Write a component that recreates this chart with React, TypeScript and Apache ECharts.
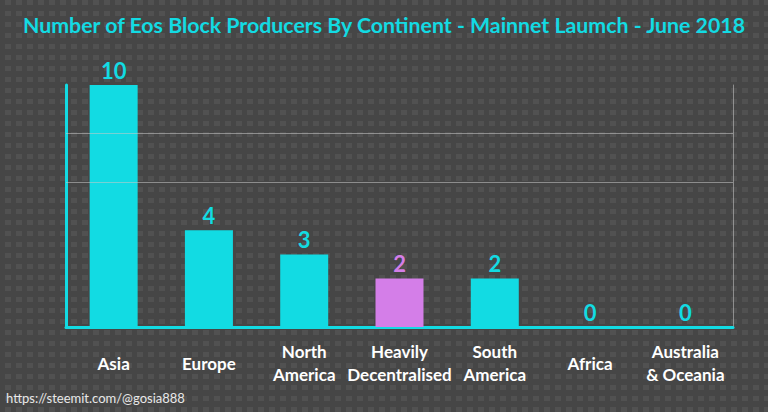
import React, { useEffect, useRef } from "react";
import * as echarts from "echarts";

const titleText = "Number of Eos Block Producers By Continent - Mainnet Laumch - June 2018";
const categories = [
  "Asia",
  "Europe",
  "North\nAmerica",
  "Heavily\nDecentralised",
  "South\nAmerica",
  "Africa",
  "Australia\n& Oceania",
];
const values = [10, 4, 3, 2, 2, 0, 0];
const highlighted = ["Heavily\nDecentralised"];
const gridValues = [6, 8];
const sourceText = "https://steemit.com/@gosia888";

const CYAN = "#12dbe3";
const PURPLE = "#d47ee8";
const FONT = "Lato, 'Open Sans', sans-serif";

export default function App() {
  const ref = useRef<HTMLDivElement>(null);

  useEffect(() => {
    if (!ref.current) return;
    const chart = echarts.init(ref.current, null, { renderer: "svg" });
    const data = values.map((v, i) => {
      const c = highlighted.includes(categories[i]) ? PURPLE : CYAN;
      return {
        value: v,
        itemStyle: { color: c },
        label: { color: c },
      };
    });
    chart.setOption({
      animation: false,
      backgroundColor: "transparent",
      textStyle: { fontFamily: FONT },
      title: {
        text: titleText,
        left: "center",
        top: 9,
        textStyle: {
          color: CYAN,
          fontSize: 21.3,
          fontWeight: "bold",
          fontFamily: FONT,
        },
      },
      grid: { left: 66, right: 35, top: 85, bottom: 85, containLabel: false },
      xAxis: {
        type: "category",
        data: categories,
        axisLine: { show: true, lineStyle: { color: CYAN, width: 3 } },
        axisTick: { show: false },
        axisLabel: {
          color: "#ffffff",
          fontSize: 17,
          fontWeight: "bold",
          fontFamily: FONT,
          lineHeight: 23,
          verticalAlign: "middle",
          margin: 36,
          interval: 0,
        },
      },
      yAxis: [
        {
          type: "value",
          min: 0,
          max: 10,
          interval: 2,
          axisLine: { show: true, lineStyle: { color: CYAN, width: 3 } },
          axisTick: { show: false },
          axisLabel: { show: false },
          splitLine: { show: false },
        },
        {
          type: "value",
          position: "right",
          min: 0,
          max: 10,
          interval: 2,
          axisLine: { show: true, lineStyle: { color: "rgba(200,200,200,0.55)", width: 1 } },
          axisTick: { show: false },
          axisLabel: { show: false },
          splitLine: { show: false },
        },
      ],
      series: [
        {
          type: "bar",
          data,
          barWidth: 48,
          label: {
            show: true,
            position: "top",
            distance: 4,
            fontSize: 22,
            fontWeight: "bold",
            fontFamily: FONT,
          },
          markLine: {
            silent: true,
            symbol: "none",
            label: { show: false },
            lineStyle: { color: "rgba(200,200,200,0.55)", width: 1, type: "solid" },
            data: gridValues.map((g) => ({ yAxis: g })),
          },
        },
      ],
      graphic: [
        {
          type: "text",
          left: 6,
          top: 391,
          style: {
            text: sourceText,
            fill: "#e8e8e8",
            fontSize: 13,
            fontFamily: FONT,
          },
        },
      ],
    });
    return () => chart.dispose();
  }, []);

  return (
    <div
      ref={ref}
      style={{
        position: "fixed",
        left: 0,
        top: 0,
        width: 768,
        height: 412,
        backgroundColor: "#464646",
        backgroundImage:
          "linear-gradient(90deg, #464646 5px, transparent 5px), linear-gradient(0deg, #464646 6px, transparent 6px), linear-gradient(rgba(255,255,255,0.06), rgba(255,255,255,0.06))",
        backgroundSize: "11px 11px",
      }}
    />
  );
}
